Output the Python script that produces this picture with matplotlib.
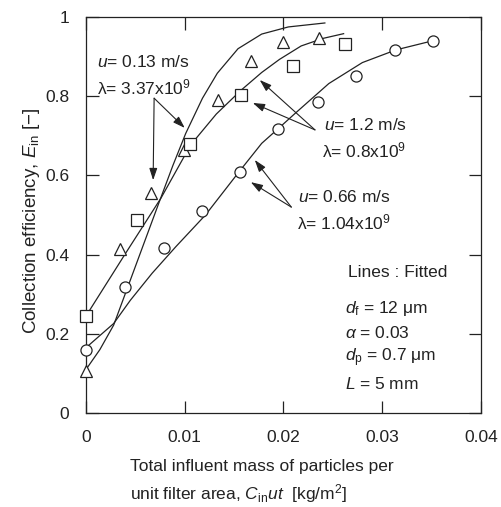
import matplotlib
matplotlib.use('Agg')
from matplotlib import pyplot as plt

plt.rcParams['font.family'] = ['Liberation Sans', 'DejaVu Sans']
plt.rcParams['mathtext.fontset'] = 'custom'
plt.rcParams['mathtext.rm'] = 'Liberation Sans'
plt.rcParams['mathtext.it'] = 'Liberation Sans:italic'

# measured points
tri_x = [0.0, 0.0034, 0.0066, 0.0099, 0.0134, 0.0167, 0.0200, 0.0236]
tri_y = [0.106, 0.414, 0.556, 0.664, 0.790, 0.889, 0.937, 0.947]
sq_x = [0.0, 0.0052, 0.0105, 0.0157, 0.0210, 0.0262]
sq_y = [0.245, 0.487, 0.679, 0.803, 0.877, 0.932]
cir_x = [0.0, 0.0039, 0.0079, 0.0118, 0.0156, 0.0195, 0.0235, 0.0274, 0.0313, 0.0352]
cir_y = [0.159, 0.318, 0.417, 0.510, 0.609, 0.716, 0.786, 0.851, 0.917, 0.939]

# fitted lines
fit_tri_x = [0.0, 0.0014, 0.0028, 0.0050, 0.0073, 0.0088, 0.0101, 0.0118, 0.0133,
             0.0154, 0.0178, 0.0205, 0.0242]
fit_tri_y = [0.110, 0.160, 0.222, 0.370, 0.525, 0.625, 0.706, 0.795, 0.858,
             0.920, 0.957, 0.975, 0.985]
fit_sq_x = [0.0, 0.0040, 0.0076, 0.0106, 0.0132, 0.0157, 0.0178, 0.0196, 0.0218, 0.0240, 0.0261]
fit_sq_y = [0.245, 0.403, 0.543, 0.677, 0.755, 0.815, 0.860, 0.893, 0.927, 0.946, 0.958]
fit_cir_x = [0.0, 0.0028, 0.0045, 0.0067, 0.0091, 0.0121, 0.0155, 0.0178, 0.0196, 0.0212,
             0.0246, 0.0280, 0.0314, 0.0348]
fit_cir_y = [0.165, 0.226, 0.285, 0.353, 0.420, 0.500, 0.609, 0.681, 0.721, 0.757,
             0.832, 0.885, 0.917, 0.938]

xticks = [0, 0.01, 0.02, 0.03, 0.04]
xticklabels = ['0', '0.01', '0.02', '0.03', '0.04']
yticks = [0, 0.2, 0.4, 0.6, 0.8, 1]
yticklabels = ['0', '0.2', '0.4', '0.6', '0.8', '1']

col = '#222222'
fig = plt.figure(figsize=(5.01, 5.07), dpi=100)
ax = fig.add_axes([0.1717, 0.1854, 0.788, 0.781])

ax.plot(fit_tri_x, fit_tri_y, '-', color=col, lw=0.9)
ax.plot(fit_sq_x, fit_sq_y, '-', color=col, lw=0.9)
ax.plot(fit_cir_x, fit_cir_y, '-', color=col, lw=0.9)

mk = dict(ls='none', mfc='white', mec=col, mew=0.9, ms=8, clip_on=False, zorder=5)
ax.plot(tri_x, tri_y, marker='^', **mk)
ax.plot(sq_x, sq_y, marker='s', **mk)
ax.plot(cir_x, cir_y, marker='o', **mk)

ax.set_xlim(0, 0.04)
ax.set_ylim(0, 1)
ax.set_xticks(xticks)
ax.set_xticklabels(xticklabels)
ax.set_yticks(yticks)
ax.set_yticklabels(yticklabels)
ax.tick_params(direction='in', length=9, width=0.9, top=True, right=True,
               labelsize=12.5, colors=col, pad=12)
for s in ax.spines.values():
    s.set_linewidth(0.9)
    s.set_color(col)

ax.set_ylabel('Collection efficiency, $E_{\\rm in}$ [\u2212]', fontsize=13.5, color=col)
ax.yaxis.set_label_coords(-0.112, 0.485)
fig.text(0.259, 0.079, 'Total influent mass of particles per', fontsize=12.5, color=col,
         ha='left', va='center')
fig.text(0.259, 0.027, 'unit filter area, $C_{\\rm in}ut$  [kg/m$^2$]', fontsize=12.5,
         color=col, ha='left', va='center')

fs = 12.5
arr = dict(arrowstyle='-|>,head_length=0.6,head_width=0.2', color=col, lw=0.8,
           mutation_scale=12, shrinkA=0, shrinkB=0)

ax.text(0.0011, 0.886, '$u$= 0.13 m/s', fontsize=fs, color=col, va='center')
ax.text(0.0011, 0.821, '\u03bb= 3.37x10$^9$', fontsize=fs, color=col, va='center')
ax.annotate('', xy=(0.0068, 0.588), xytext=(0.0069, 0.795), arrowprops=arr)
ax.annotate('', xy=(0.0100, 0.720), xytext=(0.0069, 0.795), arrowprops=arr)

ax.text(0.0241, 0.727, '$u$= 1.2 m/s', fontsize=fs, color=col, va='center')
ax.text(0.0239, 0.664, '\u03bb= 0.8x10$^9$', fontsize=fs, color=col, va='center')
ax.annotate('', xy=(0.0176, 0.841), xytext=(0.0232, 0.715), arrowprops=arr)
ax.annotate('', xy=(0.0169, 0.783), xytext=(0.0232, 0.715), arrowprops=arr)

ax.text(0.0215, 0.545, '$u$= 0.66 m/s', fontsize=fs, color=col, va='center')
ax.text(0.0214, 0.482, '\u03bb= 1.04x10$^9$', fontsize=fs, color=col, va='center')
ax.annotate('', xy=(0.0171, 0.639), xytext=(0.0208, 0.520), arrowprops=arr)
ax.annotate('', xy=(0.0167, 0.583), xytext=(0.0208, 0.520), arrowprops=arr)

ax.text(0.0265, 0.354, 'Lines : Fitted', fontsize=fs, color=col, va='center')
ax.text(0.0262, 0.263, '$d_{\\rm f}$ = 12 \u03bcm', fontsize=fs, color=col, va='center')
ax.text(0.0262, 0.202, '$\\alpha$ = 0.03', fontsize=fs, color=col, va='center')
ax.text(0.0262, 0.139, '$d_{\\rm p}$ = 0.7 \u03bcm', fontsize=fs, color=col, va='center')
ax.text(0.0262, 0.073, '$L$ = 5 mm', fontsize=fs, color=col, va='center')

fig.savefig('out.png', dpi=100)
